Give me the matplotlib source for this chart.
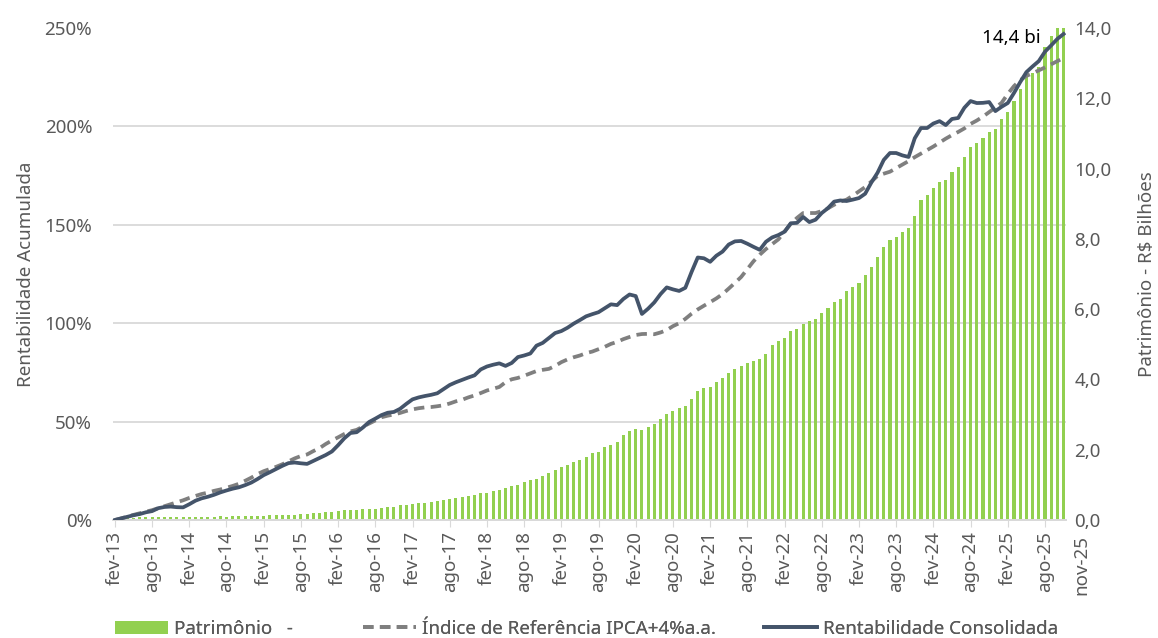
import numpy as np
import matplotlib.pyplot as plt
from matplotlib.patches import Patch
from matplotlib.lines import Line2D

plt.rcParams['font.family'] = ['Noto Sans', 'DejaVu Sans']

# monthly series, fev-13 .. nov-25 (154 months)
rentabilidade = [
    0.0, 0.8, 1.6, 2.4, 3.0, 3.9, 4.5, 6.0, 6.6, 6.8, 6.5, 6.4,
    8.0, 9.8, 11.0, 11.8, 12.8, 14.0, 15.0, 15.9, 16.6, 17.7, 19.0, 20.8,
    22.8, 24.3, 25.9, 27.5, 28.9, 29.2, 28.8, 28.5, 30.0, 31.5, 33.0, 34.8,
    38.0, 41.5, 44.2, 44.6, 47.0, 49.8, 51.5, 53.3, 54.5, 54.9, 56.5, 59.0,
    61.3, 62.3, 63.0, 63.6, 64.4, 66.5, 68.6, 70.0, 71.2, 72.4, 73.5, 76.5,
    78.0, 78.9, 79.6, 78.3, 79.8, 82.8, 83.6, 84.6, 88.6, 90.0, 92.5, 95.0,
    96.0, 97.7, 99.8, 101.6, 103.5, 104.6, 105.6, 107.6, 109.6, 109.2, 112.3, 114.6,
    113.8, 104.7, 107.4, 110.6, 114.8, 118.2, 117.2, 116.4, 118.0, 126.0, 133.4, 133.0,
    131.2, 134.3, 136.4, 140.0, 141.6, 141.8, 140.4, 138.8, 137.3, 141.4, 143.6, 144.8,
    146.5, 150.8, 151.0, 154.0, 151.4, 152.6, 156.0, 158.5, 161.8, 162.4, 162.1, 162.8,
    163.6, 165.8, 171.5, 176.5, 183.0, 186.5, 186.5, 185.3, 184.5, 194.0, 199.2, 199.2,
    201.5, 202.7, 200.7, 203.8, 204.3, 209.5, 212.9, 211.9, 212.0, 212.4, 207.8, 210.0,
    211.9, 217.0, 222.5, 227.6, 230.5, 233.2, 238.0, 241.2, 244.5, 247.0,
]

indice_ref = [
    0.0, 0.8, 1.7, 2.6, 3.4, 4.2, 5.0, 6.0, 7.0, 8.0, 9.0, 10.0,
    11.2, 12.2, 13.2, 13.9, 14.8, 15.5, 16.4, 17.3, 18.4, 19.9, 21.5, 23.3,
    24.8, 25.9, 27.0, 28.3, 29.8, 31.3, 32.5, 33.3, 35.0, 36.5, 38.6, 40.4,
    42.0, 43.7, 45.0, 45.8, 47.5, 49.0, 50.6, 52.2, 53.0, 53.6, 54.4, 55.4,
    56.2, 56.8, 57.2, 57.4, 57.8, 58.3, 59.2, 60.3, 61.1, 62.3, 63.3, 64.5,
    65.8, 66.7, 67.6, 70.0, 71.5, 72.2, 73.3, 74.5, 75.7, 76.3, 76.8, 78.3,
    80.2, 81.6, 82.7, 83.6, 84.8, 85.6, 86.8, 88.0, 89.5, 90.5, 91.9, 93.0,
    94.0, 94.5, 94.6, 94.4, 95.3, 96.5, 98.5, 100.0, 102.2, 104.8, 107.0, 108.9,
    110.7, 112.6, 114.8, 117.6, 120.5, 123.5, 127.5, 131.5, 134.8, 137.7, 140.2, 142.6,
    146.5, 150.5, 153.5, 156.0, 156.0, 156.0, 157.0, 158.4, 160.2, 161.8, 162.8, 164.8,
    167.0, 169.2, 172.0, 174.9, 176.0, 177.0, 178.8, 180.6, 182.4, 184.4, 186.2, 188.0,
    189.8, 191.8, 193.8, 195.6, 197.2, 199.0, 201.3, 203.0, 205.0, 207.3, 209.6, 212.0,
    216.5, 220.5, 223.5, 225.7, 227.0, 228.5, 230.0, 231.6, 233.2, 234.8,
]

# R$ bilhões
patrimonio = [
    0.04, 0.05, 0.06, 0.07, 0.08, 0.08, 0.08, 0.08, 0.09, 0.08, 0.09, 0.09,
    0.09, 0.09, 0.09, 0.09, 0.09, 0.10, 0.09, 0.10, 0.10, 0.11, 0.12, 0.12,
    0.12, 0.13, 0.13, 0.14, 0.14, 0.15, 0.16, 0.17, 0.19, 0.20, 0.22, 0.24,
    0.25, 0.27, 0.27, 0.28, 0.30, 0.31, 0.32, 0.34, 0.36, 0.38, 0.42, 0.43,
    0.46, 0.47, 0.49, 0.52, 0.54, 0.56, 0.59, 0.62, 0.64, 0.68, 0.72, 0.76,
    0.78, 0.83, 0.86, 0.90, 0.96, 1.00, 1.07, 1.13, 1.18, 1.26, 1.33, 1.41,
    1.50, 1.56, 1.64, 1.72, 1.80, 1.90, 1.94, 2.07, 2.13, 2.21, 2.42, 2.53,
    2.58, 2.56, 2.66, 2.73, 2.87, 3.02, 3.10, 3.18, 3.25, 3.44, 3.67, 3.76,
    3.79, 3.94, 4.05, 4.19, 4.30, 4.39, 4.46, 4.52, 4.57, 4.72, 4.98, 5.09,
    5.17, 5.38, 5.44, 5.58, 5.65, 5.72, 5.88, 6.02, 6.21, 6.28, 6.53, 6.64,
    6.75, 6.97, 7.21, 7.48, 7.76, 7.97, 8.06, 8.19, 8.32, 8.65, 9.11, 9.25,
    9.44, 9.63, 9.68, 9.90, 10.05, 10.34, 10.61, 10.72, 10.86, 11.05, 11.13, 11.41,
    11.60, 11.92, 12.27, 12.62, 12.71, 12.90, 13.47, 13.78, 14.20, 14.40,
]

tick_labels = ['fev-13', 'ago-13', 'fev-14', 'ago-14', 'fev-15', 'ago-15', 'fev-16',
               'ago-16', 'fev-17', 'ago-17', 'fev-18', 'ago-18', 'fev-19', 'ago-19',
               'fev-20', 'ago-20', 'fev-21', 'ago-21', 'fev-22', 'ago-22', 'fev-23',
               'ago-23', 'fev-24', 'ago-24', 'fev-25', 'ago-25']
last_label = 'nov-25'

GREEN = '#92D050'
SLATE = '#44546A'
GREY = '#7F7F7F'
TXT = '#595959'
FS = 13.5

x = np.arange(len(rentabilidade))

fig = plt.figure(figsize=(11.58, 6.38), dpi=100)
ax = fig.add_axes([0.0976, 0.185, 0.823, 0.771])
ax2 = ax.twinx()

# bars on the right axis, behind the lines
ax2.bar(x, patrimonio, width=0.5, color=GREEN, zorder=2)
ax2.set_ylim(0, 14)
ax2.set_yticks(np.arange(0, 14.1, 2))
ax2.set_yticklabels([f'{v:.1f}'.replace('.', ',') for v in np.arange(0, 14.1, 2)])
ax2.set_yticks(np.arange(0, 14.01, 2.8), minor=True)
ax2.grid(which='minor', axis='y', color='#D9D9D9', linewidth=1.3)
ax2.set_axisbelow(True)
ax2.tick_params(which='both', length=0, labelsize=FS, colors=TXT, pad=6)
ax2.set_ylabel('Patrimônio - R$ Bilhões', fontsize=FS, color=TXT, labelpad=19)

ax.set_zorder(ax2.get_zorder() + 1)
ax.patch.set_visible(False)
lw = 2.7
ax.plot(x, indice_ref, color=GREY, linewidth=lw, dashes=(2.8, 1.7), zorder=3)
ax.plot(x, rentabilidade, color=SLATE, linewidth=lw, zorder=4)
ax.set_ylim(0, 250)
ax.set_yticks(np.arange(0, 251, 50))
ax.set_yticklabels([f'{v}%' for v in range(0, 251, 50)])
ax.set_ylabel('Rentabilidade Acumulada', fontsize=FS, color=TXT, labelpad=7)

ax.set_xlim(-0.3, 153.4)
ax.set_xticks(np.arange(0, 151, 6))
ax.set_xticklabels(tick_labels, rotation=90)
ax.tick_params(axis='x', length=5, color='#D9D9D9', labelsize=FS, labelcolor=TXT, pad=3)
ax.tick_params(axis='y', length=0, labelsize=FS, labelcolor=TXT, pad=15)
ax.text(155.8, -0.03, last_label, transform=ax.get_xaxis_transform(), rotation=90,
        ha='center', va='top', fontsize=FS, color=TXT)

for a in (ax, ax2):
    for s in ('top', 'left', 'right'):
        a.spines[s].set_visible(False)
    a.spines['bottom'].set_color('#D9D9D9')
    a.spines['bottom'].set_linewidth(1.3)

ax2.text(144.5, 13.72, '14,4 bi', ha='center', va='center', fontsize=FS, color='black')

# legend: three single-entry legends placed like the original
entries = [
    (Patch(facecolor=GREEN, edgecolor='none'), 'Patrimônio   -', 115),
    (Line2D([0], [0], color=GREY, linewidth=lw, dashes=(2.8, 1.7)),
     'Índice de Referência IPCA+4%a.a.', 363),
    (Line2D([0], [0], color=SLATE, linewidth=lw), 'Rentabilidade Consolidada', 764),
]
for h, lab, px in entries:
    leg = fig.legend([h], [lab], loc='center left', bbox_to_anchor=(px / 1158, 0.014),
                     frameon=False, fontsize=FS, handlelength=2.85, handleheight=0.75,
                     handletextpad=0.3, borderpad=0, borderaxespad=0, labelcolor=TXT)
    fig.add_artist(leg)

fig.savefig('out.png', dpi=100)
